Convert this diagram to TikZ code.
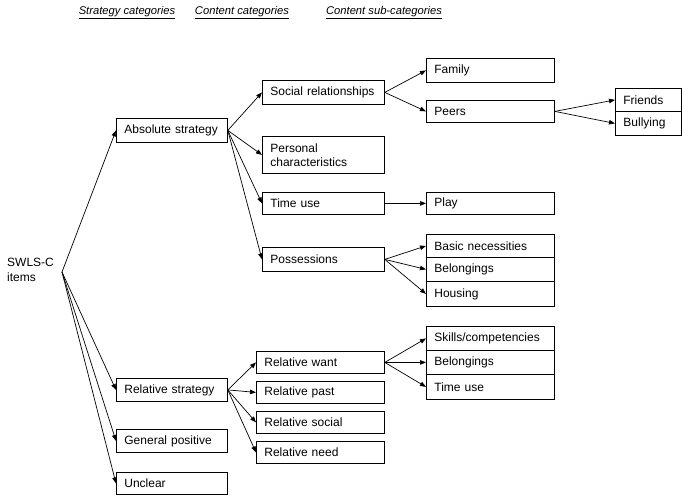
\documentclass[tikz,border=0pt]{standalone}
\usepackage{fontspec}
\setmainfont{Liberation Sans}
\usetikzlibrary{arrows.meta}
\newcommand{\bx}[6]{%
 \pgfmathsetmacro\bxW{#4-#2}\pgfmathsetmacro\bxH{#5-#3}\pgfmathsetmacro\bxT{#4-#2-16}%
 \node[box, minimum width=\bxW pt, minimum height=\bxH pt, text width=\bxT pt] (#1) at (#2,#3) {#6};}
\begin{document}
\begin{tikzpicture}[x=1pt,y=-1pt,
  box/.style={draw, line width=0.8pt, anchor=north west, inner xsep=8pt, inner ysep=0pt, align=left, font=\fontsize{12}{14}\selectfont},
  hdr/.style={font=\fontsize{11.2}{13}\selectfont\itshape},
  arr/.style={line width=0.7pt, -{Triangle[length=6pt,width=4.5pt]}}]
\useasboundingbox (0,0) rectangle (682,496);
% headers
\node[hdr] (h1) at (127,13) {\underline{Strategy categories}};
\node[hdr] (h2) at (242,13) {\underline{Content categories}};
\node[hdr] (h3) at (384,13) {\underline{Content sub-categories}};
% root
\node[align=left, anchor=west, inner sep=0pt, font=\fontsize{12}{15}\selectfont] (swls) at (7,270) {SWLS-C\\items};
\coordinate (o) at (62,272);
% strategy
\bx{abs}{116}{118}{227}{142}{Absolute strategy}
\bx{rel}{116}{378}{227}{401}{Relative strategy}
\bx{gen}{116}{429}{227}{452}{General positive}
\bx{unc}{116}{472}{227}{494}{Unclear}
% content
\bx{soc}{262}{80}{384}{104}{Social relationships}
\bx{per}{262}{136}{384}{173}{Personal\\characteristics}
\bx{tim}{262}{192}{384}{214}{Time use}
\bx{pos}{262}{247}{384}{271}{Possessions}
\bx{rwant}{256}{351}{384}{373}{Relative want}
\bx{rpast}{256}{381}{384}{403}{Relative past}
\bx{rsoc}{256}{411}{384}{433}{Relative social}
\bx{rneed}{256}{441}{384}{463}{Relative need}
% sub
\bx{fam}{426}{58}{554}{82}{Family}
\bx{peer}{426}{100}{554}{122}{Peers}
\bx{fri}{615}{88}{681}{111}{Friends}
\bx{bul}{615}{111}{681}{135}{Bullying}
\bx{play}{426}{192}{554}{214}{Play}
\bx{bas}{426}{234}{554}{257}{Basic necessities}
\bx{bel}{426}{257}{554}{281}{Belongings}
\bx{hou}{426}{281}{554}{306}{Housing}
\bx{ski}{426}{326}{554}{350}{Skills/competencies}
\bx{bel2}{426}{350}{554}{374}{Belongings}
\bx{tim2}{426}{374}{554}{399}{Time use}
% arrows
\foreach \t in {abs,rel,gen,unc} \draw[arr] (o) -- (\t.west);
\foreach \t in {soc,per,tim,pos} \draw[arr] (abs.east) -- (\t.west);
\foreach \t in {rwant,rpast,rsoc,rneed} \draw[arr] (rel.east) -- (\t.west);
\foreach \t in {fam,peer} \draw[arr] (soc.east) -- (\t.west);
\foreach \t in {fri,bul} \draw[arr] (peer.east) -- (\t.west);
\draw[arr] (tim.east) -- (play.west);
\foreach \t in {bas,bel,hou} \draw[arr] (pos.east) -- (\t.west);
\foreach \t in {ski,bel2,tim2} \draw[arr] (rwant.east) -- (\t.west);
\end{tikzpicture}
\end{document}
